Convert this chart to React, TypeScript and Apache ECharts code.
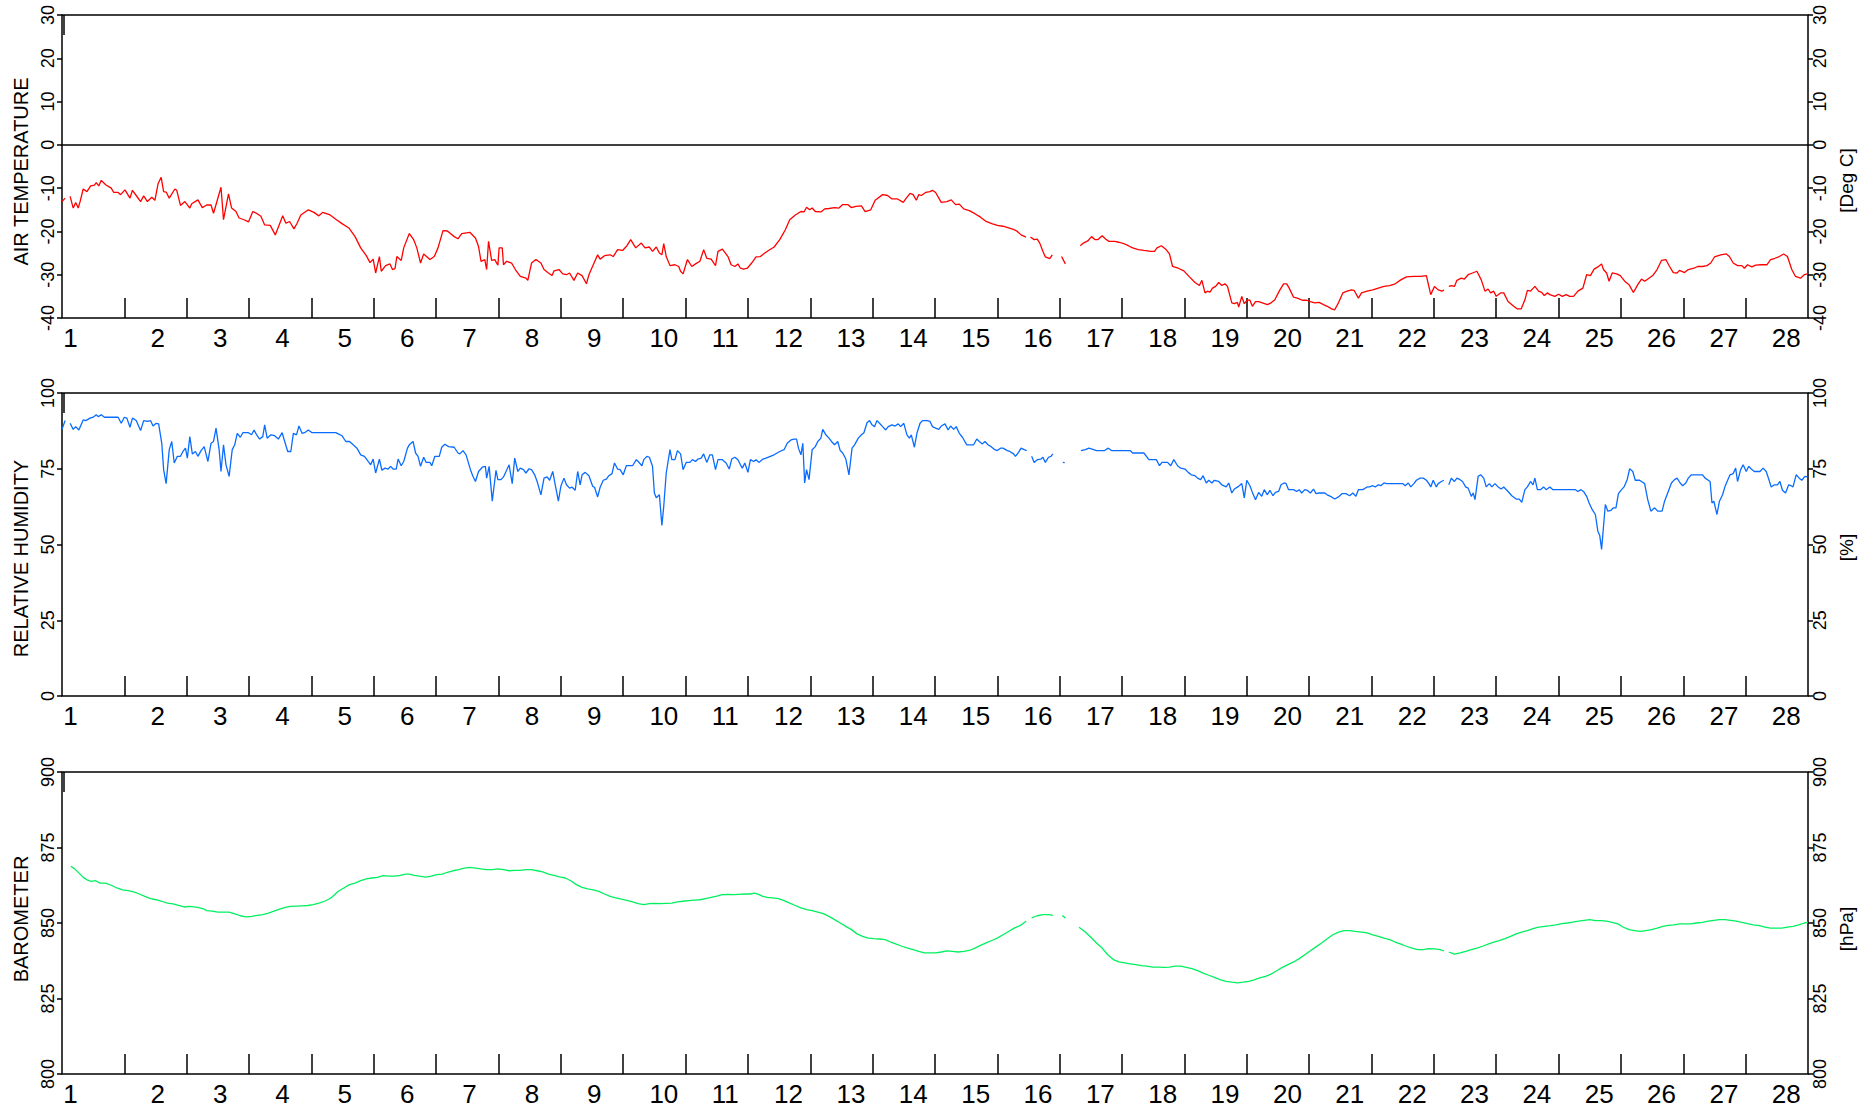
import React, { useEffect, useRef } from "react";
import * as echarts from "echarts";

const FONT = '"Liberation Sans", Arial, Helvetica, sans-serif';

// Day labels along the bottom of every panel, and the day boundaries (tick marks)
const dayLabels = ["1","2","3","4","5","6","7","8","9","10","11","12","13","14","15","16","17","18","19","20","21","22","23","24","25","26","27","28"];
const dayBoundaries = [1,2,3,4,5,6,7,8,9,10,11,12,13,14,15,16,17,18,19,20,21,22,23,24,25,26,27];

// [day (0..28), value]; null = missing data (gap)
const airTemperature: [number, number | null][] = [
  [0.00,-13.1],[0.05,-12.3],[0.09,null],[0.13,-11.9],[0.18,-14.6],[0.22,-13.3],[0.26,-14.6],[0.29,-13.1],[0.34,-10.2],[0.40,-10.8],
  [0.46,-9.5],[0.52,-9.3],[0.55,-8.7],[0.59,-9.5],[0.63,-8.2],[0.70,-9.2],[0.79,-10.0],[0.83,-11.0],[0.90,-11.0],[0.94,-11.5],
  [1.01,-10.4],[1.09,-12.3],[1.13,-10.5],[1.19,-11.7],[1.26,-13.1],[1.31,-11.8],[1.37,-13.1],[1.44,-12.1],[1.49,-12.8],[1.54,-9.0],
  [1.59,-7.5],[1.63,-10.8],[1.67,-10.9],[1.72,-12.3],[1.81,-10.2],[1.84,-10.5],[1.90,-14.0],[1.97,-13.1],[2.05,-14.6],[2.08,-13.6],
  [2.18,-12.7],[2.25,-14.5],[2.32,-13.9],[2.39,-13.9],[2.43,-15.8],[2.55,-9.8],[2.59,-17.3],[2.67,-11.3],[2.72,-14.6],[2.79,-15.4],
  [2.84,-16.9],[2.92,-17.3],[2.99,-17.8],[3.06,-15.4],[3.13,-15.9],[3.19,-16.5],[3.25,-18.5],[3.34,-18.6],[3.42,-20.8],[3.54,-16.4],
  [3.59,-18.1],[3.65,-17.7],[3.72,-19.4],[3.77,-18.1],[3.83,-16.2],[3.95,-15.0],[4.04,-15.6],[4.12,-16.4],[4.18,-15.6],[4.30,-16.2],
  [4.39,-17.2],[4.49,-18.2],[4.60,-19.2],[4.70,-21.2],[4.79,-23.8],[4.88,-25.6],[4.94,-27.2],[4.99,-26.4],[5.03,-29.6],[5.09,-25.8],
  [5.12,-29.2],[5.19,-27.9],[5.26,-27.5],[5.30,-28.8],[5.34,-28.6],[5.37,-25.8],[5.44,-26.7],[5.48,-23.8],[5.57,-20.5],[5.64,-21.9],
  [5.69,-23.8],[5.75,-27.3],[5.80,-25.2],[5.90,-26.5],[5.97,-25.8],[6.03,-23.8],[6.11,-19.8],[6.18,-19.9],[6.29,-21.2],[6.35,-21.7],
  [6.41,-20.5],[6.54,-20.2],[6.63,-21.5],[6.68,-23.5],[6.72,-26.9],[6.78,-26.5],[6.81,-28.8],[6.84,-22.3],[6.89,-26.7],[6.94,-26.5],
  [6.99,-27.8],[7.01,-23.8],[7.06,-23.8],[7.08,-27.7],[7.13,-26.9],[7.21,-27.3],[7.27,-28.8],[7.35,-30.4],[7.44,-30.8],[7.47,-31.3],
  [7.53,-27.3],[7.60,-26.5],[7.68,-27.3],[7.73,-28.8],[7.80,-29.6],[7.86,-30.2],[7.89,-29.1],[7.97,-28.8],[8.03,-29.8],[8.09,-30.0],
  [8.14,-29.6],[8.21,-31.3],[8.27,-29.6],[8.34,-30.2],[8.41,-32.1],[8.45,-30.0],[8.52,-27.7],[8.59,-25.4],[8.63,-26.4],[8.70,-25.6],
  [8.79,-25.4],[8.84,-25.8],[8.91,-24.2],[8.99,-24.4],[9.06,-23.3],[9.12,-21.9],[9.20,-23.8],[9.29,-22.7],[9.35,-23.8],[9.42,-23.6],
  [9.47,-24.6],[9.53,-23.6],[9.58,-25.0],[9.62,-25.4],[9.65,-22.8],[9.69,-25.8],[9.75,-27.9],[9.83,-27.7],[9.89,-28.1],[9.92,-29.2],
  [9.96,-29.8],[10.03,-26.5],[10.10,-28.1],[10.16,-27.5],[10.23,-26.9],[10.29,-24.2],[10.34,-26.2],[10.41,-26.4],[10.48,-27.9],[10.52,-24.6],
  [10.59,-24.1],[10.68,-25.8],[10.73,-27.7],[10.79,-28.1],[10.84,-27.5],[10.88,-28.5],[10.93,-28.7],[10.99,-28.5],[11.06,-27.3],[11.13,-25.9],
  [11.20,-25.8],[11.27,-25.0],[11.33,-24.4],[11.42,-23.6],[11.51,-21.9],[11.60,-19.6],[11.67,-17.3],[11.76,-16.2],[11.85,-15.4],[11.90,-15.5],
  [11.94,-14.4],[11.99,-15.0],[12.03,-14.6],[12.08,-15.4],[12.17,-15.5],[12.23,-14.8],[12.30,-14.7],[12.39,-14.5],[12.46,-14.6],[12.52,-13.8],
  [12.60,-13.8],[12.66,-14.5],[12.73,-14.2],[12.82,-14.1],[12.88,-15.4],[12.97,-15.0],[13.04,-12.8],[13.16,-11.5],[13.24,-11.7],[13.31,-12.5],
  [13.40,-12.5],[13.49,-13.3],[13.54,-12.3],[13.60,-11.2],[13.65,-11.5],[13.70,-12.8],[13.74,-11.5],[13.78,-11.7],[13.85,-11.0],[13.92,-10.8],
  [13.96,-10.5],[14.01,-11.0],[14.10,-13.3],[14.19,-13.1],[14.26,-12.7],[14.33,-13.8],[14.39,-13.7],[14.46,-14.8],[14.55,-15.2],[14.64,-15.9],
  [14.73,-16.7],[14.82,-17.7],[14.91,-18.2],[15.00,-18.6],[15.09,-18.8],[15.18,-19.2],[15.27,-19.6],[15.32,-20.0],[15.38,-20.8],[15.46,-21.3],
  [15.50,null],[15.53,-21.3],[15.59,-21.9],[15.64,-21.8],[15.68,-22.7],[15.73,-24.6],[15.77,-25.9],[15.84,-26.3],[15.88,-25.4],[15.95,null],
  [16.03,-25.8],[16.09,-27.5],[16.20,null],[16.33,-23.3],[16.38,-22.7],[16.45,-22.2],[16.51,-21.2],[16.57,-21.9],[16.61,-21.9],[16.68,-21.0],
  [16.74,-21.8],[16.79,-22.3],[16.88,-22.3],[16.95,-22.5],[17.04,-22.9],[17.10,-23.3],[17.17,-23.8],[17.26,-24.2],[17.35,-24.4],[17.46,-24.6],
  [17.52,-24.6],[17.56,-23.8],[17.63,-23.3],[17.70,-24.1],[17.76,-25.2],[17.81,-28.1],[17.90,-28.5],[17.99,-29.1],[18.08,-30.5],[18.17,-31.8],
  [18.24,-32.5],[18.28,-31.3],[18.33,-34.2],[18.37,-33.8],[18.41,-34.0],[18.45,-33.1],[18.50,-32.7],[18.55,-31.8],[18.60,-32.5],[18.65,-32.1],
  [18.69,-32.7],[18.76,-36.5],[18.80,-36.7],[18.85,-36.4],[18.87,-37.5],[18.92,-35.0],[18.96,-36.7],[19.01,-35.8],[19.05,-35.9],[19.09,-37.3],
  [19.14,-36.2],[19.19,-36.2],[19.25,-36.5],[19.33,-36.9],[19.39,-36.5],[19.45,-35.8],[19.52,-33.8],[19.59,-32.1],[19.64,-32.1],[19.68,-33.1],
  [19.75,-35.2],[19.81,-35.4],[19.89,-35.9],[19.96,-35.9],[20.02,-36.2],[20.09,-36.5],[20.16,-36.4],[20.23,-36.9],[20.29,-37.3],[20.36,-37.9],
  [20.41,-38.1],[20.47,-36.5],[20.54,-34.2],[20.61,-33.8],[20.68,-33.5],[20.72,-33.6],[20.79,-35.4],[20.84,-34.2],[20.93,-33.8],[21.02,-33.5],
  [21.11,-33.1],[21.20,-32.7],[21.29,-32.5],[21.38,-32.1],[21.47,-31.2],[21.56,-30.5],[21.68,-30.4],[21.79,-30.4],[21.88,-30.2],[21.95,-34.6],
  [22.01,-32.7],[22.07,-33.5],[22.13,-33.8],[22.16,-33.5],[22.20,null],[22.24,-32.7],[22.28,-32.5],[22.33,-32.7],[22.37,-31.3],[22.44,-30.8],
  [22.49,-31.0],[22.55,-30.0],[22.62,-29.6],[22.69,-29.2],[22.76,-31.2],[22.82,-33.8],[22.87,-33.3],[22.91,-34.2],[22.96,-33.8],[23.00,-35.0],
  [23.07,-34.2],[23.12,-34.2],[23.19,-36.2],[23.28,-37.3],[23.34,-37.9],[23.40,-37.9],[23.46,-35.8],[23.50,-33.6],[23.55,-33.8],[23.62,-32.7],
  [23.68,-33.8],[23.73,-34.1],[23.77,-34.8],[23.82,-34.2],[23.86,-34.6],[23.94,-35.0],[24.00,-34.5],[24.06,-35.0],[24.12,-34.6],[24.18,-35.0],
  [24.24,-35.0],[24.31,-33.8],[24.39,-33.1],[24.45,-30.0],[24.51,-30.2],[24.57,-28.7],[24.63,-28.2],[24.69,-27.5],[24.72,-28.8],[24.77,-29.6],
  [24.81,-31.5],[24.86,-29.6],[24.93,-29.8],[24.99,-30.2],[25.06,-31.5],[25.13,-32.3],[25.20,-34.1],[25.27,-32.3],[25.33,-31.0],[25.38,-31.5],
  [25.45,-30.8],[25.51,-30.2],[25.58,-28.8],[25.65,-26.7],[25.72,-26.5],[25.78,-28.1],[25.84,-29.5],[25.90,-29.6],[25.94,-29.0],[26.02,-29.5],
  [26.08,-28.8],[26.17,-28.5],[26.23,-28.1],[26.31,-28.1],[26.38,-27.9],[26.44,-27.3],[26.50,-25.9],[26.60,-25.4],[26.69,-25.2],[26.74,-25.8],
  [26.80,-27.3],[26.87,-27.9],[26.94,-27.9],[26.98,-28.5],[27.03,-27.7],[27.10,-28.2],[27.16,-27.8],[27.25,-27.7],[27.34,-27.7],[27.40,-26.5],
  [27.47,-26.2],[27.54,-25.8],[27.61,-25.2],[27.67,-25.8],[27.74,-28.8],[27.80,-30.4],[27.88,-30.8],[27.94,-30.0],[27.99,-29.8]
];

const relativeHumidity: [number, number | null][] = [
  [0.00,88.0],[0.05,90.9],[0.09,null],[0.13,90.0],[0.18,88.0],[0.22,88.9],[0.27,87.8],[0.34,91.1],[0.38,90.9],[0.45,91.7],
  [0.50,92.0],[0.55,92.8],[0.58,92.2],[0.63,92.8],[0.68,92.0],[0.79,92.0],[0.90,92.0],[0.95,90.0],[1.00,92.0],[1.04,91.7],
  [1.09,88.7],[1.13,91.7],[1.19,90.9],[1.26,87.6],[1.31,90.9],[1.37,90.6],[1.42,90.9],[1.46,89.1],[1.51,90.0],[1.55,89.8],
  [1.60,83.4],[1.63,74.7],[1.67,70.1],[1.72,81.3],[1.76,84.0],[1.80,76.9],[1.85,79.1],[1.90,79.1],[1.94,80.7],[1.98,81.8],
  [2.01,78.5],[2.05,85.6],[2.09,79.9],[2.14,80.7],[2.18,79.1],[2.23,81.0],[2.28,82.3],[2.34,77.4],[2.39,83.4],[2.43,84.0],
  [2.47,88.4],[2.52,81.3],[2.55,74.1],[2.59,82.9],[2.63,76.3],[2.68,72.5],[2.73,81.3],[2.77,82.9],[2.81,86.7],[2.86,85.4],
  [2.90,86.9],[2.99,86.9],[3.04,86.2],[3.08,87.8],[3.13,85.9],[3.17,84.8],[3.22,85.6],[3.25,89.5],[3.29,85.1],[3.35,86.2],
  [3.41,85.9],[3.47,84.8],[3.53,86.9],[3.58,83.4],[3.62,80.7],[3.67,80.7],[3.71,86.7],[3.76,86.2],[3.80,89.1],[3.85,86.7],
  [3.89,86.9],[3.95,87.8],[4.01,86.9],[4.12,86.9],[4.21,86.9],[4.30,86.9],[4.39,86.9],[4.43,86.5],[4.49,85.9],[4.55,84.0],
  [4.61,84.0],[4.67,82.9],[4.73,81.8],[4.79,79.6],[4.85,79.1],[4.91,77.4],[4.95,76.3],[4.99,78.2],[5.03,73.6],[5.09,78.2],
  [5.13,74.5],[5.18,75.2],[5.23,74.9],[5.27,75.8],[5.31,74.9],[5.36,74.9],[5.39,78.2],[5.44,76.0],[5.48,77.4],[5.54,81.8],
  [5.57,82.9],[5.63,84.0],[5.67,80.2],[5.71,79.1],[5.75,75.8],[5.80,78.8],[5.84,77.1],[5.90,77.1],[5.93,76.0],[5.98,79.1],
  [6.05,79.1],[6.09,82.1],[6.14,83.1],[6.20,82.3],[6.29,82.1],[6.35,80.2],[6.38,79.9],[6.43,81.0],[6.48,79.6],[6.55,74.7],
  [6.59,72.5],[6.63,70.8],[6.68,74.1],[6.74,75.5],[6.79,75.8],[6.81,71.9],[6.85,75.8],[6.90,64.3],[6.96,74.5],[6.99,71.4],
  [7.04,71.4],[7.08,72.3],[7.13,74.5],[7.17,76.3],[7.22,70.1],[7.26,78.5],[7.31,74.1],[7.35,75.2],[7.40,74.7],[7.44,73.6],
  [7.49,75.0],[7.53,74.7],[7.58,73.0],[7.62,70.8],[7.68,66.4],[7.73,71.9],[7.78,72.3],[7.82,71.2],[7.87,74.1],[7.91,69.7],
  [7.96,64.3],[8.00,69.2],[8.05,71.9],[8.09,69.7],[8.14,68.6],[8.18,68.9],[8.23,67.9],[8.27,74.1],[8.31,69.7],[8.34,73.0],
  [8.39,73.8],[8.45,72.7],[8.51,69.2],[8.54,68.9],[8.59,65.7],[8.63,68.9],[8.68,71.2],[8.73,71.6],[8.77,72.7],[8.82,73.4],
  [8.86,76.9],[8.91,74.9],[8.95,74.7],[9.00,73.0],[9.05,76.0],[9.11,76.0],[9.15,76.0],[9.21,78.0],[9.24,77.4],[9.30,76.0],
  [9.33,78.0],[9.38,79.1],[9.42,78.8],[9.47,75.8],[9.50,67.0],[9.53,65.4],[9.58,66.4],[9.62,56.3],[9.65,62.6],[9.69,73.6],
  [9.75,81.3],[9.78,78.0],[9.83,78.0],[9.87,81.0],[9.92,79.9],[9.96,74.7],[10.01,77.1],[10.07,77.1],[10.11,78.0],[10.16,77.4],
  [10.20,78.2],[10.25,78.5],[10.29,79.9],[10.34,77.1],[10.39,79.6],[10.43,79.6],[10.48,74.7],[10.52,78.0],[10.59,78.0],[10.65,76.9],
  [10.70,74.9],[10.74,78.2],[10.79,78.8],[10.84,78.0],[10.88,76.3],[10.91,75.2],[10.95,76.9],[11.00,73.8],[11.04,78.0],[11.09,77.4],
  [11.13,78.0],[11.18,77.1],[11.24,78.2],[11.29,78.5],[11.36,79.1],[11.42,79.6],[11.51,80.7],[11.58,81.3],[11.63,83.4],[11.69,84.5],
  [11.74,84.8],[11.78,84.8],[11.81,81.8],[11.85,79.6],[11.88,83.4],[11.91,70.3],[11.94,74.7],[11.98,71.4],[12.03,81.3],[12.08,82.3],
  [12.12,84.0],[12.17,85.1],[12.20,88.0],[12.25,86.2],[12.30,85.1],[12.34,84.0],[12.39,82.9],[12.44,84.0],[12.48,81.0],[12.52,80.2],
  [12.57,78.2],[12.62,73.0],[12.67,81.8],[12.71,82.9],[12.77,85.1],[12.82,86.2],[12.86,86.9],[12.91,90.2],[12.95,90.9],[12.99,89.5],
  [13.03,88.9],[13.07,90.9],[13.11,90.0],[13.16,88.9],[13.21,87.8],[13.25,88.9],[13.31,89.5],[13.36,89.1],[13.41,89.8],[13.45,88.9],
  [13.50,90.0],[13.55,86.2],[13.59,85.1],[13.62,86.2],[13.67,82.1],[13.71,86.7],[13.76,90.0],[13.80,90.9],[13.87,90.9],[13.92,90.6],
  [13.96,88.9],[14.01,88.4],[14.06,88.0],[14.10,89.1],[14.16,89.8],[14.21,87.8],[14.25,89.1],[14.30,88.0],[14.34,88.9],[14.39,86.7],
  [14.44,85.4],[14.51,82.9],[14.57,82.9],[14.62,82.9],[14.67,84.8],[14.71,84.0],[14.76,83.2],[14.80,84.0],[14.85,82.9],[14.90,82.3],
  [14.96,81.3],[15.00,81.0],[15.05,81.8],[15.09,81.8],[15.16,81.0],[15.20,80.7],[15.26,79.9],[15.29,79.1],[15.34,80.4],[15.38,81.8],
  [15.43,81.3],[15.47,81.0],[15.51,null],[15.55,79.1],[15.59,77.1],[15.64,78.0],[15.70,78.2],[15.73,78.8],[15.77,77.1],[15.82,78.8],
  [15.86,79.1],[15.89,79.9],[15.97,null],[16.05,77.1],[16.08,77.0],[16.20,null],[16.34,81.0],[16.41,81.3],[16.47,81.8],[16.52,81.5],
  [16.59,81.0],[16.72,81.0],[16.78,81.8],[16.83,81.0],[16.99,81.0],[17.13,81.0],[17.17,80.2],[17.35,80.2],[17.43,78.0],[17.55,78.0],
  [17.60,76.0],[17.64,77.1],[17.73,77.1],[17.78,76.0],[17.83,78.0],[17.89,76.0],[17.94,75.2],[18.01,74.9],[18.06,73.8],[18.11,73.0],
  [18.17,72.7],[18.21,71.9],[18.26,71.4],[18.30,72.7],[18.35,70.3],[18.39,71.2],[18.44,70.3],[18.48,71.2],[18.55,70.8],[18.60,69.7],
  [18.67,69.0],[18.71,70.3],[18.76,67.0],[18.80,68.3],[18.87,69.2],[18.92,70.1],[18.96,65.4],[19.00,71.2],[19.05,69.4],[19.09,67.2],
  [19.14,64.8],[19.19,67.2],[19.24,65.9],[19.28,68.1],[19.33,66.4],[19.37,67.9],[19.42,66.1],[19.46,67.2],[19.51,67.5],[19.55,69.7],
  [19.60,70.3],[19.63,70.1],[19.67,68.1],[19.75,68.1],[19.80,67.5],[19.84,68.1],[19.88,67.0],[19.93,68.1],[19.97,67.9],[20.02,67.0],
  [20.07,68.3],[20.11,66.8],[20.16,67.0],[20.25,67.0],[20.29,66.4],[20.36,65.7],[20.41,65.0],[20.47,65.7],[20.53,66.8],[20.59,66.8],
  [20.65,66.1],[20.70,67.0],[20.75,65.9],[20.79,68.1],[20.86,68.1],[20.93,69.0],[20.97,69.0],[21.02,69.4],[21.06,69.0],[21.11,69.7],
  [21.15,69.4],[21.20,70.3],[21.24,70.1],[21.33,70.1],[21.42,70.1],[21.50,70.1],[21.54,69.4],[21.59,70.3],[21.63,69.0],[21.68,70.1],
  [21.72,71.2],[21.78,71.9],[21.83,71.9],[21.88,71.2],[21.92,70.1],[21.95,69.0],[21.99,71.2],[22.04,69.0],[22.07,70.1],[22.12,70.8],
  [22.16,71.2],[22.20,null],[22.24,69.7],[22.28,71.9],[22.33,70.8],[22.37,71.9],[22.42,71.4],[22.46,70.8],[22.51,69.0],[22.55,68.6],
  [22.60,65.9],[22.63,67.0],[22.66,64.8],[22.71,72.5],[22.75,73.0],[22.80,71.9],[22.84,69.0],[22.89,70.1],[22.93,69.0],[22.98,70.1],
  [23.03,69.0],[23.08,68.3],[23.12,69.0],[23.19,67.5],[23.25,66.1],[23.32,65.0],[23.37,65.0],[23.41,63.9],[23.46,68.1],[23.50,69.0],
  [23.55,70.8],[23.59,69.7],[23.62,71.9],[23.66,68.1],[23.71,68.1],[23.76,69.0],[23.80,68.1],[23.86,69.0],[23.91,68.1],[24.00,68.1],
  [24.09,68.1],[24.18,68.1],[24.27,68.1],[24.31,67.5],[24.36,68.1],[24.40,67.5],[24.45,65.9],[24.49,63.7],[24.54,61.5],[24.59,59.9],
  [24.63,54.4],[24.66,53.0],[24.69,48.4],[24.75,63.2],[24.79,61.0],[24.84,61.3],[24.88,62.1],[24.92,62.1],[24.96,66.8],[25.01,68.1],
  [25.05,69.0],[25.10,71.4],[25.14,75.0],[25.19,74.1],[25.23,71.2],[25.30,71.2],[25.33,70.8],[25.38,70.1],[25.43,64.8],[25.48,61.0],
  [25.54,62.1],[25.59,61.0],[25.66,61.0],[25.70,64.3],[25.77,68.1],[25.81,70.3],[25.86,71.4],[25.90,71.9],[25.95,70.3],[25.99,69.4],
  [26.04,70.3],[26.08,71.9],[26.13,73.0],[26.22,73.0],[26.31,73.0],[26.35,71.9],[26.43,70.8],[26.46,63.7],[26.49,64.3],[26.54,59.9],
  [26.58,64.3],[26.63,66.4],[26.67,69.2],[26.72,71.6],[26.75,73.0],[26.80,73.4],[26.84,75.2],[26.87,70.8],[26.92,74.7],[26.96,76.3],
  [27.01,74.1],[27.05,75.8],[27.09,74.9],[27.14,74.1],[27.18,74.1],[27.23,74.1],[27.28,75.2],[27.33,74.1],[27.37,71.6],[27.41,69.0],
  [27.46,69.7],[27.51,69.7],[27.55,70.8],[27.59,67.9],[27.64,67.0],[27.69,69.7],[27.73,69.4],[27.76,69.0],[27.81,73.0],[27.86,71.9],
  [27.90,71.2],[27.95,72.5],[27.99,72.3]
];

const barometer: [number, number | null][] = [
  [0.00,869.5],[0.07,null],[0.14,868.8],[0.20,868.0],[0.27,866.6],[0.34,865.1],[0.40,864.3],[0.47,863.8],[0.54,864.0],[0.61,863.2],
  [0.70,863.2],[0.79,862.5],[0.88,861.6],[0.97,861.0],[1.06,860.7],[1.15,860.3],[1.24,859.6],[1.33,858.8],[1.42,858.1],[1.51,857.7],
  [1.60,857.2],[1.69,856.6],[1.78,856.3],[1.87,855.8],[1.96,855.3],[2.05,855.5],[2.18,855.2],[2.27,854.7],[2.32,854.1],[2.41,853.9],
  [2.50,853.6],[2.59,853.6],[2.68,853.6],[2.77,853.0],[2.86,852.4],[2.95,852.0],[3.04,852.2],[3.13,852.5],[3.22,852.8],[3.31,853.3],
  [3.40,853.9],[3.49,854.6],[3.58,855.2],[3.67,855.5],[3.76,855.6],[3.85,855.7],[3.94,855.8],[4.03,856.1],[4.12,856.6],[4.21,857.2],
  [4.30,858.1],[4.34,858.8],[4.43,860.5],[4.52,861.6],[4.61,862.7],[4.70,863.2],[4.79,864.0],[4.88,864.6],[4.97,864.9],[5.06,865.1],
  [5.15,865.7],[5.24,865.5],[5.33,865.5],[5.42,865.8],[5.51,866.2],[5.57,866.2],[5.65,865.8],[5.73,865.5],[5.83,865.2],[5.92,865.5],
  [6.01,866.0],[6.10,866.2],[6.18,866.8],[6.27,867.3],[6.36,867.7],[6.45,868.2],[6.54,868.4],[6.63,868.2],[6.72,867.9],[6.81,867.7],
  [6.90,867.7],[6.99,867.9],[7.08,867.7],[7.17,867.3],[7.26,867.4],[7.35,867.4],[7.44,867.7],[7.53,867.7],[7.62,867.3],[7.71,866.9],
  [7.80,866.2],[7.89,865.8],[7.98,865.3],[8.07,864.9],[8.16,864.0],[8.25,862.7],[8.34,861.8],[8.43,861.3],[8.52,861.0],[8.61,860.5],
  [8.70,859.6],[8.79,858.8],[8.88,858.3],[8.97,857.9],[9.06,857.5],[9.15,857.0],[9.24,856.4],[9.33,856.1],[9.42,856.4],[9.51,856.5],
  [9.60,856.4],[9.69,856.5],[9.78,856.6],[9.87,857.0],[9.96,857.2],[10.05,857.4],[10.14,857.6],[10.23,857.7],[10.32,858.1],[10.41,858.5],
  [10.50,858.9],[10.59,859.4],[10.68,859.5],[10.77,859.4],[10.86,859.5],[10.95,859.6],[11.04,859.6],[11.11,859.9],[11.18,859.4],[11.24,858.8],
  [11.31,858.5],[11.40,858.3],[11.49,858.1],[11.58,857.4],[11.67,856.6],[11.76,855.8],[11.85,855.0],[11.94,854.4],[12.03,854.1],[12.12,853.6],
  [12.21,853.1],[12.30,852.2],[12.39,851.1],[12.48,850.0],[12.57,848.9],[12.66,847.8],[12.75,846.4],[12.84,845.6],[12.93,845.0],[13.02,844.8],
  [13.11,844.7],[13.20,844.5],[13.29,843.7],[13.38,843.0],[13.47,842.3],[13.56,841.7],[13.65,841.2],[13.74,840.6],[13.83,840.1],[13.92,840.1],
  [14.01,840.1],[14.10,840.4],[14.19,840.8],[14.28,840.6],[14.37,840.4],[14.46,840.6],[14.55,840.9],[14.64,841.7],[14.73,842.6],[14.82,843.4],
  [14.91,844.2],[15.00,845.0],[15.09,846.1],[15.18,847.2],[15.27,848.3],[15.37,849.2],[15.46,850.6],[15.50,null],[15.55,851.7],[15.64,852.4],
  [15.73,852.8],[15.82,852.8],[15.89,852.5],[15.96,null],[16.04,852.5],[16.09,851.7],[16.20,null],[16.31,848.6],[16.41,847.0],[16.50,845.3],
  [16.59,843.4],[16.68,841.7],[16.77,839.5],[16.86,837.9],[16.95,837.1],[17.04,836.8],[17.13,836.5],[17.22,836.2],[17.31,835.9],[17.40,835.7],
  [17.49,835.4],[17.58,835.4],[17.67,835.3],[17.76,835.4],[17.85,835.7],[17.94,835.7],[18.03,835.3],[18.12,834.9],[18.21,834.2],[18.30,833.4],
  [18.39,832.7],[18.48,832.0],[18.58,831.2],[18.67,830.7],[18.76,830.4],[18.85,830.2],[18.94,830.4],[19.03,830.7],[19.12,831.2],[19.21,831.8],
  [19.30,832.3],[19.39,833.1],[19.48,834.2],[19.57,835.3],[19.66,836.2],[19.75,837.1],[19.84,838.2],[19.93,839.5],[20.02,840.8],[20.11,842.1],
  [20.20,843.4],[20.29,844.8],[20.38,846.1],[20.47,847.0],[20.56,847.5],[20.65,847.5],[20.74,847.2],[20.84,847.0],[20.93,846.7],[21.02,846.1],
  [21.11,845.6],[21.20,845.0],[21.29,844.5],[21.38,843.7],[21.47,843.0],[21.56,842.3],[21.65,841.7],[21.74,841.2],[21.83,841.2],[21.92,841.5],
  [22.01,841.4],[22.10,841.2],[22.16,840.8],[22.20,null],[22.24,840.4],[22.33,839.7],[22.42,840.1],[22.51,840.6],[22.60,841.2],[22.69,841.7],
  [22.78,842.3],[22.87,843.0],[22.96,843.7],[23.05,844.2],[23.14,844.8],[23.23,845.6],[23.32,846.4],[23.41,847.0],[23.50,847.5],[23.59,848.1],
  [23.68,848.6],[23.78,848.9],[23.87,849.1],[23.96,849.4],[24.05,849.8],[24.14,850.0],[24.23,850.3],[24.32,850.6],[24.41,850.9],[24.50,851.1],
  [24.59,850.8],[24.68,850.8],[24.77,850.6],[24.86,850.2],[24.95,849.7],[25.04,848.6],[25.13,847.8],[25.22,847.5],[25.31,847.2],[25.40,847.5],
  [25.49,847.8],[25.58,848.3],[25.67,848.9],[25.76,849.2],[25.85,849.4],[25.94,849.7],[26.03,849.7],[26.12,849.7],[26.21,850.0],[26.31,850.2],
  [26.40,850.6],[26.49,850.9],[26.58,851.1],[26.67,851.1],[26.76,850.9],[26.85,850.6],[26.94,850.2],[27.03,849.8],[27.12,849.4],[27.22,849.1],
  [27.31,848.6],[27.40,848.3],[27.49,848.3],[27.58,848.3],[27.67,848.6],[27.76,848.9],[27.85,849.4],[27.94,850.0],[28.00,850.2]
];

const panels = [
  { title: "AIR TEMPERATURE", unit: "[Deg C]", min: -40, max: 30, interval: 10, color: "#ff0000", data: airTemperature, zeroLine: true },
  { title: "RELATIVE HUMIDITY", unit: "[%]", min: 0, max: 100, interval: 25, color: "#0a6cff", data: relativeHumidity, zeroLine: false },
  { title: "BAROMETER", unit: "[hPa]", min: 800, max: 900, interval: 25, color: "#00f060", data: barometer, zeroLine: false },
];

const gridTops = [15, 393, 772];
const gridHeights = [303, 303, 302];
// padding that nudges the rotated axis titles along their axis (right pad = shift down)
const titlePads = [[0, 10, 0, 0], [0, 28, 0, 0], [0, 0, 0, 8]];
const unitPads = [[0, 28, 0, 0], [0, 6, 0, 0], [0, 12, 0, 0]];

export default function App() {
  const ref = useRef<HTMLDivElement>(null);

  useEffect(() => {
    if (!ref.current) return;
    const chart = echarts.init(ref.current, undefined, { renderer: "svg" });
    const black = "#000";
    const labelPositions = dayLabels.map((_, i) => (i === 0 ? 0.02 : i + 0.42));

    const option: any = {
      animation: false,
      backgroundColor: "#fff",
      textStyle: { fontFamily: FONT },
      grid: panels.map((_, i) => ({
        left: 62,
        right: 61,
        top: gridTops[i],
        height: gridHeights[i],
        show: true,
        borderColor: black,
        borderWidth: 1.5,
        backgroundColor: "transparent",
        containLabel: false,
        outerBoundsMode: "none",
      })),
      xAxis: panels.flatMap((_, i) => [
        {
          type: "value",
          gridIndex: i,
          min: 0,
          max: 28,
          position: "bottom",
          axisLine: { show: false, onZero: false },
          splitLine: { show: false },
          axisTick: {
            show: true,
            inside: true,
            length: 20,
            customValues: dayBoundaries,
            lineStyle: { color: black, width: 1.5 },
          },
          axisLabel: {
            show: true,
            customValues: labelPositions,
            formatter: (v: number) => dayLabels[Math.floor(v + 1e-6)] ?? "",
            align: "left",
            fontSize: 26,
            lineHeight: 26,
            color: black,
            fontFamily: FONT,
            margin: 7,
          },
        },
        {
          type: "value",
          gridIndex: i,
          min: 0,
          max: 28,
          position: "top",
          axisLine: { show: false, onZero: false },
          splitLine: { show: false },
          axisLabel: { show: false },
          axisTick: {
            show: true,
            inside: true,
            length: 20,
            customValues: [0.03],
            lineStyle: { color: black, width: 1.5 },
          },
        },
      ]),
      yAxis: panels.flatMap((p, i) => [
        {
          type: "value",
          gridIndex: i,
          position: "left",
          min: p.min,
          max: p.max,
          interval: p.interval,
          name: p.title,
          nameLocation: "middle",
          nameRotate: 90,
          nameGap: 30,
          nameTextStyle: { fontSize: 20, color: black, fontFamily: FONT, padding: titlePads[i] },
          axisLine: { show: false, onZero: false },
          splitLine: { show: false },
          axisTick: { show: true, length: 5, lineStyle: { color: black, width: 1.5 } },
          axisLabel: { rotate: 90, fontSize: 18, margin: 5, color: black, fontFamily: FONT },
        },
        {
          type: "value",
          gridIndex: i,
          position: "right",
          min: p.min,
          max: p.max,
          interval: p.interval,
          name: p.unit,
          nameLocation: "middle",
          nameRotate: 90,
          nameGap: 25,
          nameTextStyle: { fontSize: 19, color: black, fontFamily: FONT, padding: unitPads[i] },
          axisLine: { show: false, onZero: false },
          splitLine: { show: false },
          axisTick: { show: true, length: 5, lineStyle: { color: black, width: 1.5 } },
          axisLabel: { rotate: 90, fontSize: 18, margin: 3, color: black, fontFamily: FONT },
        },
      ]),
      series: panels.map((p, i) => ({
        type: "line",
        name: p.title,
        xAxisIndex: 2 * i,
        yAxisIndex: 2 * i,
        data: p.data.map(([d, v]) => [d, v === null ? "-" : v]),
        showSymbol: false,
        symbol: "none",
        connectNulls: false,
        silent: true,
        lineStyle: { color: p.color, width: 1.3 },
        markLine: p.zeroLine
          ? {
              silent: true,
              symbol: "none",
              label: { show: false },
              lineStyle: { color: black, width: 1.5, type: "solid" },
              data: [{ yAxis: 0 }],
            }
          : undefined,
      })),
    };

    chart.setOption(option);
    return () => chart.dispose();
  }, []);

  return (
    <div
      ref={ref}
      style={{ position: "absolute", left: 0, top: 0, width: 1869, height: 1110, background: "#fff" }}
    />
  );
}
